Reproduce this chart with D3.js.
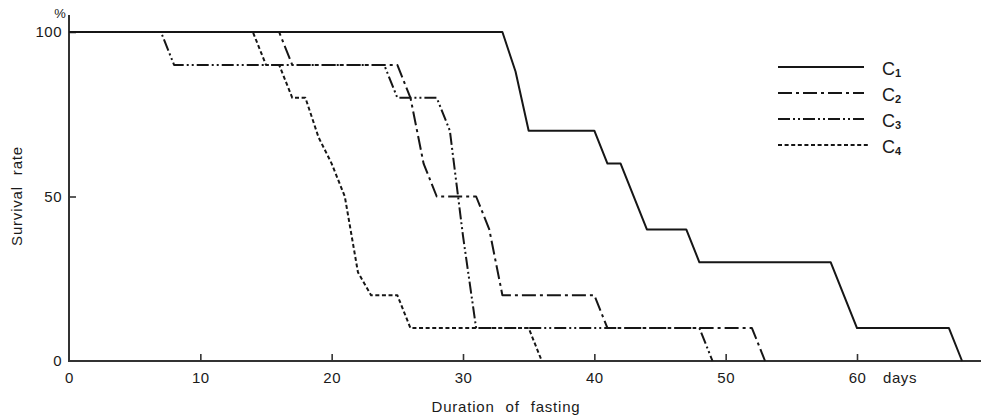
<!DOCTYPE html>
<html>
<head>
<meta charset="utf-8">
<script src="https://cdn.jsdelivr.net/npm/d3@7"></script>
<style>
  html, body { margin: 0; padding: 0; background: #fff; }
  svg { display: block; }
  text { font-family: "Liberation Sans", "DejaVu Sans", sans-serif; fill: #1a1a1a; }
</style>
</head>
<body>
<svg id="chart" width="982" height="418"></svg>
<script>
// Survival (%) against days of fasting, one step curve per group
const c1Days   = [0, 33, 34, 35, 40, 41, 42, 44, 47, 48, 58, 60, 67, 68];
const c1Values = [100, 100, 88, 70, 70, 60, 60, 40, 40, 30, 30, 10, 10, 0];

const c2Days   = [0, 16, 17, 25, 26, 27, 28, 31, 32, 33, 40, 41, 52, 53];
const c2Values = [100, 100, 90, 90, 80, 60, 50, 50, 40, 20, 20, 10, 10, 0];

const c3Days   = [0, 7, 8, 24, 25, 28, 29, 30, 31, 48, 49];
const c3Values = [100, 100, 90, 90, 80, 80, 70, 38, 10, 10, 0];

const c4Days   = [0, 14, 15, 16, 17, 18, 19, 20, 21, 22, 23, 25, 26, 35, 36];
const c4Values = [100, 100, 90, 90, 80, 80, 68, 60, 50, 27, 20, 20, 10, 10, 0];

const seriesNames = ["1", "2", "3", "4"];
const xTicks = [0, 10, 20, 30, 40, 50, 60];
const yTicks = [0, 50, 100];

const series = [
  { sub: seriesNames[0], days: c1Days, values: c1Values, dash: null },
  { sub: seriesNames[1], days: c2Days, values: c2Values, dash: "14 4 3 4" },
  { sub: seriesNames[2], days: c3Days, values: c3Values, dash: "12 3 2 3 2 3" },
  { sub: seriesNames[3], days: c4Days, values: c4Values, dash: "4 2.6" }
];

const svg = d3.select("#chart");
const x = d3.scaleLinear().domain([0, 60]).range([69, 857]);
const y = d3.scaleLinear().domain([0, 100]).range([361, 32]);

const ink = "#161616";

// axis lines: x runs out to the page edge, y rises a little past 100
svg.append("line")
  .attr("x1", x(0)).attr("x2", 981).attr("y1", y(0)).attr("y2", y(0))
  .attr("stroke", "#333").attr("stroke-width", 2);
svg.append("line")
  .attr("x1", x(0)).attr("x2", x(0)).attr("y1", y(0) + 1).attr("y2", y(105.2))
  .attr("stroke", "#333").attr("stroke-width", 2);

// x axis ticks point into the plot
const xAxis = d3.axisBottom(x).tickValues(xTicks).tickSizeInner(-7).tickSizeOuter(0).tickPadding(11)
  .tickFormat(d3.format("d"));
const gx = svg.append("g").attr("transform", `translate(0,${y(0)})`).call(xAxis);
gx.select(".domain").remove();
gx.selectAll(".tick line").attr("stroke", "#333").attr("stroke-width", 1.6)
  .filter(d => d === 0).remove();
gx.selectAll(".tick text").attr("font-size", 15).attr("letter-spacing", 0.5).style("fill", "#1a1a1a");

const yAxis = d3.axisLeft(y).tickValues(yTicks).tickSizeInner(-7).tickSizeOuter(0).tickPadding(7)
  .tickFormat(d3.format("d"));
const gy = svg.append("g").attr("transform", `translate(${x(0)},0)`).call(yAxis);
gy.select(".domain").remove();
gy.selectAll(".tick line").attr("stroke", "#333").attr("stroke-width", 1.6)
  .filter(d => d === 0).remove();
gy.selectAll(".tick text").attr("font-size", 15).attr("letter-spacing", 0.5).style("fill", "#1a1a1a");

// units and titles
svg.append("text").attr("x", 60).attr("y", 18).attr("text-anchor", "middle")
  .attr("font-size", 13).text("%");
svg.append("text").attr("x", x(60) + 43).attr("y", 383).attr("text-anchor", "middle")
  .attr("font-size", 15).attr("letter-spacing", 0.6).text("days");
svg.append("text").attr("x", 506).attr("y", 412).attr("text-anchor", "middle")
  .attr("font-size", 15).attr("letter-spacing", 0.8).attr("word-spacing", 6)
  .text("Duration of fasting");
svg.append("text").attr("transform", "translate(22,196) rotate(-90)")
  .attr("text-anchor", "middle").attr("font-size", 15).attr("letter-spacing", 0.8)
  .attr("word-spacing", 6).text("Survival rate");

// survival curves
const line = d3.line().x(d => x(d[0])).y(d => y(d[1]));
series.forEach(s => {
  const pts = s.days.map((d, i) => [d, s.values[i]]);
  svg.append("path").datum(pts)
    .attr("d", line)
    .attr("fill", "none")
    .attr("stroke", ink)
    .attr("stroke-width", 2)
    .attr("stroke-linejoin", "round")
    .attr("stroke-dasharray", s.dash);
});

// legend
const legendY = [67, 93, 119, 145];
series.forEach((s, i) => {
  svg.append("line")
    .attr("x1", 778).attr("x2", i === 3 ? 868 : 864)
    .attr("y1", legendY[i]).attr("y2", legendY[i])
    .attr("stroke", ink).attr("stroke-width", 2)
    .attr("stroke-dasharray", s.dash);
  const t = svg.append("text").attr("x", 882).attr("y", legendY[i] + 8).attr("font-size", 18);
  t.append("tspan").text("C");
  t.append("tspan").attr("font-size", 11).attr("font-weight", "bold").attr("dy", 2).text(s.sub);
});
</script>
</body>
</html>
